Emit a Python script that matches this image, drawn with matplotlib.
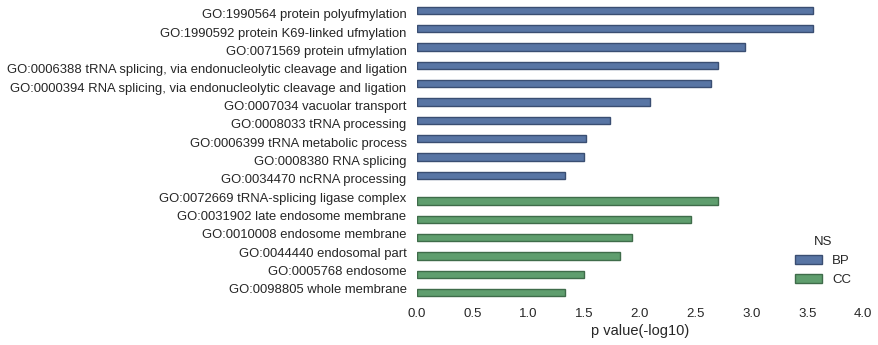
import matplotlib
matplotlib.use("Agg")
import matplotlib.pyplot as plt
import matplotlib.patches as mpatches
import numpy as np

plt.rcParams['font.family'] = ['Liberation Sans', 'DejaVu Sans']
plt.rcParams['text.color'] = '#262626'
plt.rcParams['xtick.color'] = '#262626'
plt.rcParams['ytick.color'] = '#262626'
plt.rcParams['axes.labelcolor'] = '#262626'

# GO terms, top to bottom
terms = [
    "GO:1990564 protein polyufmylation",
    "GO:1990592 protein K69-linked ufmylation",
    "GO:0071569 protein ufmylation",
    "GO:0006388 tRNA splicing, via endonucleolytic cleavage and ligation",
    "GO:0000394 RNA splicing, via endonucleolytic cleavage and ligation",
    "GO:0007034 vacuolar transport",
    "GO:0008033 tRNA processing",
    "GO:0006399 tRNA metabolic process",
    "GO:0008380 RNA splicing",
    "GO:0034470 ncRNA processing",
    "GO:0072669 tRNA-splicing ligase complex",
    "GO:0031902 late endosome membrane",
    "GO:0010008 endosome membrane",
    "GO:0044440 endosomal part",
    "GO:0005768 endosome",
    "GO:0098805 whole membrane",
]
namespace = ["BP"] * 10 + ["CC"] * 6
pvals = [3.55, 3.55, 2.94, 2.70, 2.64, 2.09, 1.73, 1.52, 1.50, 1.33,
         2.70, 2.46, 1.93, 1.82, 1.50, 1.33]

ns_order = ["BP", "CC"]
fills = {"BP": "#5875a4", "CC": "#5f9e6e"}
edges = {"BP": "#3a4e72", "CC": "#3f6c4a"}

fig = plt.figure(figsize=(8.79, 3.45), dpi=100)
ax = fig.add_axes([0.4744, 0.1362, 0.5074, 0.8498])

y = np.arange(len(terms))
bar_h = 0.4
for k, ns in enumerate(ns_order):
    offset = -0.2 + 0.4 * k
    idx = [i for i, n in enumerate(namespace) if n == ns]
    ax.barh(y[idx] + offset, [pvals[i] for i in idx], height=bar_h,
            color=fills[ns], edgecolor=edges[ns], linewidth=1)

ax.set_yticks(y)
ax.set_yticklabels(terms, fontsize=9.35)
ax.set_ylim(len(terms) - 0.5, -0.5)
ax.set_xlim(0, 4)
ax.set_xticks(np.arange(0, 4.01, 0.5))
ax.tick_params(axis='x', labelsize=9.5, length=0, pad=7)
ax.tick_params(axis='y', length=0, pad=7.5)
ax.set_xlabel("p value(-log10)", fontsize=10.5, labelpad=3)
for s in ax.spines.values():
    s.set_visible(False)

handles = [mpatches.Patch(facecolor=fills[n], edgecolor=edges[n], label=n)
           for n in ns_order]
ax.legend(handles=handles, title="NS", loc="lower right", frameon=False,
          fontsize=9.5, title_fontsize=9.5)

fig.savefig("out.png", dpi=100)
